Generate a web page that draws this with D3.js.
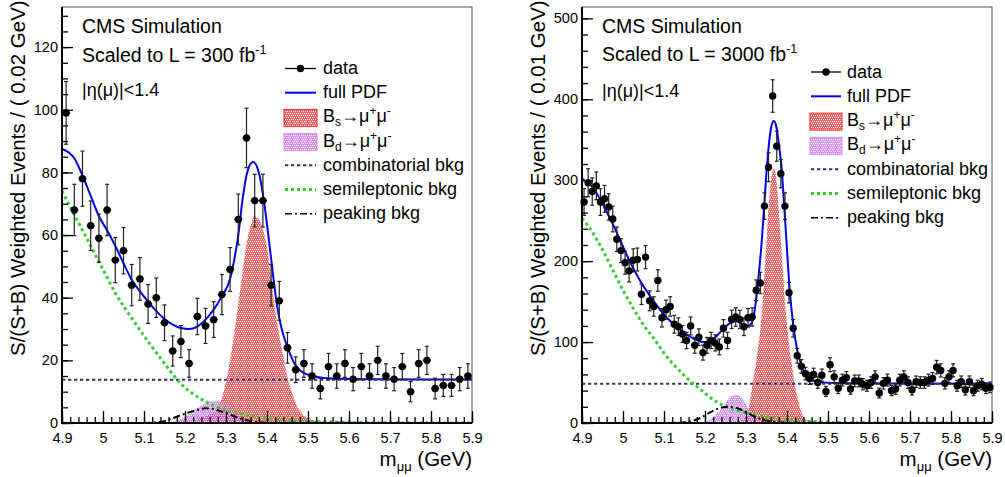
<!DOCTYPE html>
<html>
<head>
<meta charset="utf-8">
<script src="https://cdn.jsdelivr.net/npm/d3@7"></script>
<style>
  body { margin: 0; background: #fff; }
  svg { font-family: 'Liberation Sans', Arial, Helvetica, sans-serif; }
</style>
</head>
<body>
<div class="chart"></div>
<script>
'use strict'

// Binning (GeV).
const massRange = [4.9, 5.9];
const binWidthLeft = 0.02;
const binWidthRight = 0.01;

// Tick values.
const xMajorTicks = [4.9, 5.0, 5.1, 5.2, 5.3, 5.4, 5.5, 5.6, 5.7, 5.8, 5.9];
const xTickLabels = ['4.9', '5', '5.1', '5.2', '5.3', '5.4', '5.5', '5.6', '5.7', '5.8', '5.9'];
const yMajorLeft = [0, 20, 40, 60, 80, 100, 120];
const yMajorRight = [0, 100, 200, 300, 400, 500];

// Left panel (300 fb-1): weighted events per 0.02 GeV bin.
const dataLeft = [99, 68, 78, 63, 59, 68, 52, 55, 44, 46, 38, 40, 32, 23, 26, 19, 34, 31, 33, 41,
    49, 65, 91, 71, 71, 44, 39, 24, 17, 19, 15, 11, 18, 15, 19, 14, 18, 15, 20, 15,
    14, 18, 10, 19, 20, 11, 12, 12, 14, 15];
const errLeft = [10, 8.2, 8.8, 7.9, 7.7, 8.2, 7.2, 7.4, 6.6, 6.8, 6.2, 6.3, 5.7, 4.8, 5.1, 4.4, 5.8, 5.6, 5.7, 6.4,
    7, 8.1, 9.5, 8.4, 8.4, 6.6, 6.2, 4.9, 4.1, 4.4, 3.9, 3.3, 4.2, 3.9, 4.4, 3.7, 4.2, 3.9, 4.5, 3.9,
    3.7, 4.2, 3.2, 4.4, 4.5, 3.3, 3.5, 3.5, 3.7, 3.9];

// Right panel (3000 fb-1): weighted events per 0.01 GeV bin.
const dataRight = [273, 297, 286, 293, 273, 277, 267, 252, 227, 213, 198, 188, 201, 202, 159, 205, 151, 144, 176, 130,
    140, 144, 122, 119, 110, 102, 120, 96, 106, 87, 96, 102, 99, 94, 117, 102, 128, 131, 128, 119,
    130, 131, 164, 173, 268, 316, 404, 342, 308, 268, 161, 117, 83, 70, 61, 55, 60, 50, 59, 39,
    72, 57, 43, 53, 56, 42, 52, 52, 48, 46, 50, 57, 37, 49, 53, 40, 42, 53, 57, 50,
    41, 51, 50, 50, 53, 55, 69, 65, 49, 57, 65, 46, 51, 41, 51, 40, 46, 48, 43, 44];
const errRight = [16.5, 17.2, 16.9, 17.1, 16.5, 16.6, 16.3, 15.9, 15.1, 14.6, 14.1, 13.7, 14.2, 14.2, 12.6, 14.3, 12.3, 12, 13.3, 11.4,
    11.8, 12, 11, 10.9, 10.5, 10.1, 11, 9.8, 10.3, 9.3, 9.8, 10.1, 9.9, 9.7, 10.8, 10.1, 11.3, 11.4, 11.3, 10.9,
    11.4, 11.4, 12.8, 13.2, 16.4, 17.8, 20.1, 18.5, 17.5, 16.4, 12.7, 10.8, 9.1, 8.4, 7.8, 7.4, 7.7, 7.1, 7.7, 6.2,
    8.5, 7.5, 6.6, 7.3, 7.5, 6.5, 7.2, 7.2, 6.9, 6.8, 7.1, 7.5, 6.1, 7, 7.3, 6.3, 6.5, 7.3, 7.5, 7.1,
    6.4, 7.1, 7.1, 7.1, 7.3, 7.4, 8.3, 8.1, 7, 7.5, 8.1, 6.8, 7.1, 6.4, 7.1, 6.3, 6.8, 6.9, 6.6, 6.6];

// Fit components, left panel: [mass, value].
const pdfLeft = [[4.90, 87.5], [4.93, 84.5], [4.95, 79], [4.97, 72.5], [4.99, 66], [5.01, 61.5], [5.03, 56.5],
    [5.05, 51], [5.07, 45.7], [5.09, 42], [5.11, 38.8], [5.13, 35.7], [5.15, 33.2], [5.17, 31.4], [5.19, 30.3],
    [5.21, 30], [5.23, 30.8], [5.25, 33], [5.27, 36.2], [5.29, 40.5], [5.31, 46], [5.32, 52], [5.33, 60],
    [5.34, 71], [5.35, 79], [5.36, 82.8], [5.367, 83.3], [5.375, 82], [5.385, 77], [5.395, 68.5], [5.405, 58],
    [5.415, 47], [5.425, 37], [5.435, 30.5], [5.445, 26], [5.455, 22.5], [5.465, 19.5], [5.475, 17.5],
    [5.49, 16], [5.51, 15], [5.54, 14.4], [5.58, 14.1], [5.65, 14], [5.90, 13.9]];
const bsLeft = [[4.90, 0], [5.00, 0.05], [5.10, 0.15], [5.15, 0.3], [5.20, 0.6], [5.22, 0.9], [5.24, 1.5],
    [5.26, 2.6], [5.27, 3.5], [5.28, 5], [5.29, 8], [5.30, 13], [5.31, 20], [5.32, 28.5], [5.33, 38],
    [5.34, 48], [5.35, 57], [5.36, 63], [5.37, 66], [5.38, 65], [5.39, 62], [5.40, 56], [5.41, 46],
    [5.42, 36], [5.43, 28], [5.44, 21], [5.45, 14.5], [5.46, 10], [5.47, 6.5], [5.48, 4], [5.49, 2.5],
    [5.50, 1.5], [5.52, 0.6], [5.55, 0.2], [5.60, 0.05], [5.90, 0]];
const bdLeft = [[5.10, 0], [5.15, 0.2], [5.17, 0.5], [5.19, 1.3], [5.21, 2.8], [5.23, 4.8], [5.25, 6.3],
    [5.27, 7], [5.28, 7], [5.29, 6.4], [5.31, 4.6], [5.33, 2.4], [5.35, 1], [5.37, 0.4], [5.40, 0.1], [5.45, 0]];
const combLeft = [[4.90, 13.8], [5.90, 13.8]];
const semiLeft = [[4.90, 74], [4.92, 69], [4.94, 64], [4.96, 59], [4.98, 54], [5.00, 49], [5.03, 41.5],
    [5.07, 33.5], [5.11, 26], [5.15, 19], [5.19, 12.5], [5.23, 8.4], [5.27, 5.6], [5.31, 3.8], [5.35, 2.6],
    [5.39, 1.6], [5.45, 0.9], [5.50, 0.5], [5.60, 0.2], [5.70, 0.05], [5.90, 0]];
const peakLeft = [[5.10, 0], [5.13, 0.2], [5.15, 0.6], [5.17, 1.5], [5.19, 2.5], [5.21, 3.4], [5.23, 4.2],
    [5.25, 4.7], [5.27, 4.5], [5.29, 3.6], [5.31, 2.7], [5.33, 1.7], [5.35, 0.9], [5.37, 0.4], [5.40, 0.1], [5.90, 0]];

// Fit components, right panel: [mass, value].
const pdfRight = [[4.90, 302], [4.925, 292], [4.95, 271], [4.975, 246], [5.00, 218], [5.02, 196], [5.045, 173],
    [5.07, 154], [5.095, 137], [5.12, 123.5], [5.145, 113], [5.17, 105], [5.19, 100.5], [5.205, 100],
    [5.22, 103.5], [5.235, 111], [5.25, 119], [5.265, 124.5], [5.277, 126], [5.29, 122], [5.30, 119],
    [5.31, 121], [5.318, 130], [5.326, 158], [5.332, 188], [5.338, 222], [5.344, 265], [5.35, 310],
    [5.356, 345], [5.362, 367], [5.368, 373], [5.374, 366], [5.38, 345], [5.387, 314], [5.393, 270],
    [5.399, 222], [5.407, 162], [5.415, 122], [5.425, 90], [5.435, 71], [5.445, 60], [5.46, 53],
    [5.48, 50.5], [5.52, 49.3], [5.60, 48.8], [5.90, 48.5]];
const bsRight = [[4.90, 0], [5.10, 0.5], [5.20, 1], [5.25, 1.3], [5.28, 1.8], [5.29, 4], [5.30, 8], [5.305, 15],
    [5.31, 28], [5.315, 45], [5.32, 60], [5.325, 76], [5.33, 95], [5.335, 116], [5.34, 145], [5.345, 185],
    [5.35, 225], [5.355, 265], [5.36, 295], [5.365, 311], [5.368, 314], [5.37, 313], [5.375, 296],
    [5.38, 262], [5.385, 225], [5.39, 188], [5.395, 150], [5.40, 121], [5.405, 97], [5.41, 78],
    [5.415, 61], [5.42, 44], [5.425, 33], [5.43, 22], [5.435, 13], [5.44, 7.5], [5.445, 4.5], [5.45, 3],
    [5.46, 1.5], [5.48, 0.5], [5.55, 0.1], [5.90, 0]];
const bdRight = [[5.15, 0], [5.18, 0.6], [5.20, 1.5], [5.21, 3.5], [5.22, 7.5], [5.23, 12.5], [5.24, 18],
    [5.25, 25], [5.26, 31], [5.27, 34.5], [5.277, 35], [5.285, 33.5], [5.29, 31], [5.30, 23], [5.31, 15],
    [5.32, 9], [5.33, 4.5], [5.34, 2], [5.35, 0.8], [5.37, 0.2], [5.40, 0]];
const combRight = [[4.90, 48.5], [5.90, 48.5]];
const semiRight = [[4.90, 253], [4.925, 236], [4.95, 214], [4.975, 189], [5.00, 164], [5.025, 141.6],
    [5.05, 121], [5.075, 104.5], [5.10, 86.5], [5.125, 71.5], [5.15, 58.5], [5.17, 49], [5.19, 41],
    [5.21, 32.5], [5.23, 25.5], [5.25, 20.5], [5.275, 16.2], [5.30, 12.8], [5.325, 10], [5.35, 7.8],
    [5.375, 5.9], [5.40, 4.3], [5.425, 2.9], [5.45, 2], [5.50, 0.9], [5.55, 0.4], [5.60, 0.2], [5.70, 0.05], [5.90, 0]];
const peakRight = [[5.10, 0], [5.13, 0.3], [5.15, 0.8], [5.17, 2.8], [5.19, 6.5], [5.205, 11], [5.22, 15],
    [5.24, 19], [5.26, 20], [5.285, 17], [5.305, 12], [5.325, 7], [5.35, 3], [5.38, 1], [5.42, 0.2], [5.90, 0]];

// Legend entries.
const legendItems = ['data', 'full PDF', 'Bs', 'Bd', 'combinatorial bkg', 'semileptonic bkg', 'peaking bkg'];

// Dimensions.
let width = 1005,
    height = 477,
    plotTop = 7,
    plotBottom = 423,
    font = "'Liberation Sans', Arial, Helvetica, sans-serif";

let svg = d3.select('.chart')
    .append('svg')
        .attr('width', width)
        .attr('height', height);

// Hatch patterns, ROOT-like.
let defs = svg.append('defs');
function hatch(id, colour) {
    let p = defs.append('pattern')
        .attr('id', id)
        .attr('patternUnits', 'userSpaceOnUse')
        .attr('width', 4)
        .attr('height', 4);
    p.append('rect').attr('width', 4).attr('height', 4).attr('fill', colour);
    [[0, 1], [2, 1], [1, 3], [3, 3]].forEach(([px, py]) => {
        p.append('rect').attr('x', px).attr('y', py).attr('width', 1).attr('height', 1).attr('fill', '#fff');
    });
}
hatch('hatchRed', '#f84848');
hatch('hatchViolet', '#cc66ee');

const panels = [
    {
        left: 62, right: 472, yMax: 132.8, yMajor: yMajorLeft, yMinorStep: 5,
        data: dataLeft, err: errLeft, binWidth: binWidthLeft,
        pdf: pdfLeft, bs: bsLeft, bd: bdLeft, comb: combLeft, semi: semiLeft, peak: peakLeft,
        yTitle: 'S/(S+B) Weighted Events / ( 0.02 GeV)', yTitleX: 25,
        lumi: '300', textX: 82, textY: [32.5, 61.5, 95.5],
        legend: {x0: 285, x1: 316, tx: 323, y0: 74, dy: 24.2}
    },
    {
        left: 582, right: 992, yMax: 514, yMajor: yMajorRight, yMinorStep: 20,
        data: dataRight, err: errRight, binWidth: binWidthRight,
        pdf: pdfRight, bs: bsRight, bd: bdRight, comb: combRight, semi: semiRight, peak: peakRight,
        yTitle: 'S/(S+B) Weighted Events / ( 0.01 GeV)', yTitleX: 545,
        lumi: '3000', textX: 602, textY: [33, 60.5, 97],
        legend: {x0: 811, x1: 841, tx: 847, y0: 77.5, dy: 24.3}
    }
];

panels.forEach((p, k) => drawPanel(p, k));

function drawPanel(p, k) {
    let g = svg.append('g');

    // Build scales.
    let x = d3.scaleLinear().domain(massRange).range([p.left, p.right]);
    let y = d3.scaleLinear().domain([0, p.yMax]).range([plotBottom, plotTop]);

    // Clip for the curves.
    defs.append('clipPath').attr('id', 'clip' + k)
        .append('rect')
            .attr('x', p.left).attr('y', plotTop)
            .attr('width', p.right - p.left).attr('height', plotBottom - plotTop);

    // Frame.
    g.append('rect')
        .attr('x', p.left).attr('y', plotTop)
        .attr('width', p.right - p.left).attr('height', plotBottom - plotTop)
        .attr('fill', 'none')
        .attr('stroke', '#555')
        .attr('stroke-width', 1);

    let plot = g.append('g').attr('clip-path', `url(#clip${k})`);

    let area = d3.area()
        .x(d => x(d[0]))
        .y0(y(0))
        .y1(d => y(d[1]))
        .curve(d3.curveMonotoneX);
    let line = d3.line()
        .x(d => x(d[0]))
        .y(d => y(d[1]))
        .curve(d3.curveMonotoneX);

    // Signal shapes.
    plot.append('path').datum(p.bs)
        .attr('d', area)
        .attr('fill', 'url(#hatchRed)')
        .attr('opacity', 0.85);
    plot.append('path').datum(p.bd)
        .attr('d', area)
        .attr('fill', 'url(#hatchViolet)')
        .attr('opacity', 0.7);

    // Full PDF.
    plot.append('path').datum(p.pdf)
        .attr('d', line)
        .attr('fill', 'none')
        .attr('stroke', '#0000ee')
        .attr('stroke-width', 2);

    // Backgrounds.
    plot.append('path').datum(p.comb)
        .attr('d', line)
        .attr('fill', 'none')
        .attr('stroke', '#34346e')
        .attr('stroke-width', 2)
        .attr('stroke-dasharray', '3.3,2.7');
    plot.append('path').datum(p.semi)
        .attr('d', line)
        .attr('fill', 'none')
        .attr('stroke', '#33cc33')
        .attr('stroke-width', 3)
        .attr('stroke-dasharray', '3,3');
    plot.append('path').datum(p.peak)
        .attr('d', line)
        .attr('fill', 'none')
        .attr('stroke', '#000')
        .attr('stroke-width', 2)
        .attr('stroke-dasharray', '7,3,2,3');

    // Data points with error bars.
    let bins = p.data.map((v, i) => ({
        c: massRange[0] + p.binWidth * (i + 0.5),
        v: v,
        e: p.err[i]
    }));
    let half = x(massRange[0] + p.binWidth / 2) - x(massRange[0]);
    let pts = g.append('g').attr('stroke', '#222').attr('stroke-width', 1.2);
    bins.forEach(d => {
        let cx = x(d.c);
        pts.append('line').attr('x1', cx).attr('x2', cx).attr('y1', y(d.v - d.e)).attr('y2', y(d.v + d.e));
        pts.append('line').attr('x1', cx - 2).attr('x2', cx + 2).attr('y1', y(d.v - d.e)).attr('y2', y(d.v - d.e));
        pts.append('line').attr('x1', cx - 2).attr('x2', cx + 2).attr('y1', y(d.v + d.e)).attr('y2', y(d.v + d.e));
        pts.append('line').attr('x1', cx - half).attr('x2', cx + half).attr('y1', y(d.v)).attr('y2', y(d.v));
    });
    g.append('g').selectAll('circle')
        .data(bins)
        .join('circle')
            .attr('cx', d => x(d.c))
            .attr('cy', d => y(d.v))
            .attr('r', 3.7)
            .attr('fill', '#000');

    // Axes: ticks inside the frame.
    let xMinor = d3.range(0, 51).map(i => massRange[0] + i * 0.02);
    g.append('g')
        .attr('transform', `translate(0, ${plotBottom})`)
        .call(d3.axisBottom(x).tickValues(xMinor).tickSize(-6).tickFormat(''))
        .call(a => a.select('.domain').remove());
    g.append('g')
        .attr('transform', `translate(0, ${plotBottom})`)
        .call(d3.axisBottom(x).tickValues(xMajorTicks).tickSize(-12).tickPadding(10)
            .tickFormat((d, i) => xTickLabels[i]))
        .call(a => a.select('.domain').remove())
        .call(a => a.selectAll('text').attr('font-size', 14.5).attr('font-family', font).attr('fill', '#000'));

    let yMinor = d3.range(0, p.yMax, p.yMinorStep);
    g.append('g')
        .attr('transform', `translate(${p.left}, 0)`)
        .call(d3.axisLeft(y).tickValues(yMinor).tickSize(-6).tickFormat(''))
        .call(a => a.select('.domain').remove());
    g.append('g')
        .attr('transform', `translate(${p.left}, 0)`)
        .call(d3.axisLeft(y).tickValues(p.yMajor).tickSize(-11).tickPadding(4))
        .call(a => a.select('.domain').remove())
        .call(a => a.selectAll('text').attr('font-size', 14.5).attr('font-family', font).attr('fill', '#000'));
    g.selectAll('.tick line').attr('stroke', '#000').attr('stroke-width', 1.3);

    // Axis lines.
    g.append('line')
        .attr('x1', p.left).attr('x2', p.left).attr('y1', plotTop).attr('y2', plotBottom + 1)
        .attr('stroke', '#000').attr('stroke-width', 2);
    g.append('line')
        .attr('x1', p.left - 1).attr('x2', p.right).attr('y1', plotBottom).attr('y2', plotBottom)
        .attr('stroke', '#000').attr('stroke-width', 2);

    // Axis titles.
    let xt = g.append('text')
        .attr('x', p.right).attr('y', 466)
        .attr('text-anchor', 'end')
        .attr('font-size', 20.5);
    xt.append('tspan').text('m');
    xt.append('tspan').attr('dy', 5).attr('font-size', 13).text('μμ');
    xt.append('tspan').attr('dy', -5).text(' (GeV)');

    g.append('text')
        .attr('transform', `translate(${p.yTitleX}, 356) rotate(-90)`)
        .attr('font-size', 20.5)
        .text(p.yTitle);

    // Annotations.
    g.append('text').attr('x', p.textX).attr('y', p.textY[0]).attr('font-size', 19.5).text('CMS Simulation');
    let lumi = g.append('text').attr('x', p.textX).attr('y', p.textY[1]).attr('font-size', 19.5);
    lumi.append('tspan').text(`Scaled to L = ${p.lumi} fb`);
    lumi.append('tspan').attr('dy', -8).attr('font-size', 12.5).text('-1');
    g.append('text').attr('x', p.textX).attr('y', p.textY[2]).attr('font-size', 18).text('|η(μ)|<1.4');

    // Legend.
    let L = p.legend;
    legendItems.forEach((name, i) => {
        let by = L.y0 + i * L.dy,
            cy = by - 5.5,
            xm = (L.x0 + L.x1) / 2;
        if (name === 'data') {
            g.append('line').attr('x1', L.x0).attr('x2', L.x1).attr('y1', cy).attr('y2', cy)
                .attr('stroke', '#000').attr('stroke-width', 1.3);
            g.append('circle').attr('cx', xm).attr('cy', cy).attr('r', 3.7).attr('fill', '#000');
        } else if (name === 'full PDF') {
            g.append('line').attr('x1', L.x0).attr('x2', L.x1).attr('y1', cy).attr('y2', cy)
                .attr('stroke', '#0000ee').attr('stroke-width', 2);
        } else if (name === 'Bs' || name === 'Bd') {
            g.append('rect')
                .attr('x', L.x0 - 1).attr('y', by - 13).attr('width', L.x1 - L.x0 + 2).attr('height', 17)
                .attr('fill', name === 'Bs' ? 'url(#hatchRed)' : 'url(#hatchViolet)')
                .attr('opacity', name === 'Bs' ? 0.85 : 0.7)
                .attr('stroke', name === 'Bs' ? '#ff0000' : '#cc55ee')
                .attr('stroke-width', 1);
        } else {
            let style = {
                'combinatorial bkg': ['#34346e', 2, '3.3,2.7'],
                'semileptonic bkg': ['#33cc33', 3, '3,3'],
                'peaking bkg': ['#000', 1.5, '7,3,2,3']
            }[name];
            g.append('line').attr('x1', L.x0).attr('x2', L.x1).attr('y1', cy).attr('y2', cy)
                .attr('stroke', style[0]).attr('stroke-width', style[1]).attr('stroke-dasharray', style[2]);
        }
        let t = g.append('text').attr('x', L.tx).attr('y', by).attr('font-size', 18);
        if (name === 'Bs' || name === 'Bd') {
            t.append('tspan').text('B');
            t.append('tspan').attr('dy', 4).attr('font-size', 12).text(name === 'Bs' ? 's' : 'd');
            t.append('tspan').attr('dy', -4).text('→μ');
            t.append('tspan').attr('dy', -7).attr('font-size', 12).text('+');
            t.append('tspan').attr('dy', 7).text('μ');
            t.append('tspan').attr('dy', -7).attr('font-size', 12).text('-');
        } else {
            t.text(name);
        }
    });
}
</script>
</body>
</html>
